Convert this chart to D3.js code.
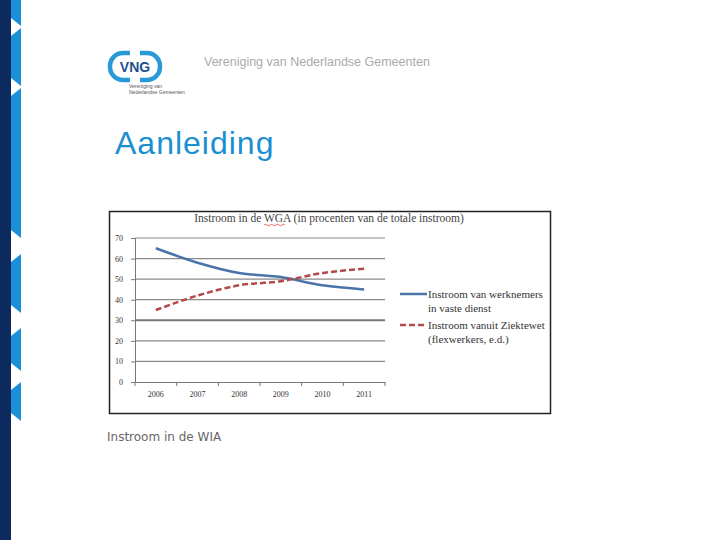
<!DOCTYPE html>
<html>
<head>
<meta charset="utf-8">
<script src="https://cdn.jsdelivr.net/npm/d3@7"></script>
<style>
  body { margin: 0; background: #fff; }
  svg { display: block; }
</style>
</head>
<body>
<script>
// data
const years = ["2006", "2007", "2008", "2009", "2010", "2011"]
const vasteDienst = [65, 58, 53, 51, 47, 45]
const ziektewet = [35, 42, 47, 49, 53, 55]
const yTicks = [0, 10, 20, 30, 40, 50, 60, 70]
const seriesNames = [
    ["Instroom van werknemers", "in vaste dienst"],
    ["Instroom vanuit Ziektewet", "(flexwerkers, e.d.)"]
]
// light-blue pieces of the side band (y from, y to)
const bandPieces = [[0, 18], [36, 78], [96, 230], [262, 305], [336, 363], [390, 413]]

const svg = d3.select("body").append("svg").attr("width", 720).attr("height", 540)

// side band
svg.append("rect").attr("x", 0).attr("y", 0).attr("width", 11).attr("height", 540).attr("fill", "#0c2a5e")
svg.selectAll("path.piece")
    .data(bandPieces)
    .enter()
    .append("path")
    .attr("class", "piece")
    .attr("fill", "#1b8fd8")
    .attr("d", p => `M11,${p[0]} L21,${p[0] - 8} L21,${p[1] + 8} L11,${p[1]} Z`)
svg.append("rect").attr("x", 21).attr("y", 0).attr("width", 10).attr("height", 540).attr("fill", "#fff")

// logo
const logo = svg.append("g")
logo.append("rect").attr("x", 110).attr("y", 53).attr("width", 50).attr("height", 27).attr("rx", 13)
    .attr("fill", "none").attr("stroke", "#2a9ad6").attr("stroke-width", 4.5)
logo.append("rect").attr("x", 130).attr("y", 49).attr("width", 10).attr("height", 35).attr("fill", "#fff")
logo.append("text").attr("x", 135).attr("y", 72).attr("text-anchor", "middle")
    .attr("font-family", "Arial, 'Liberation Sans', sans-serif").attr("font-weight", "bold")
    .attr("font-size", 14).attr("fill", "#1e4f8c").text("VNG")
logo.append("text").attr("x", 129).attr("y", 88).attr("font-family", "Arial, sans-serif")
    .attr("font-size", 5).attr("fill", "#555").text("Vereniging van")
logo.append("text").attr("x", 129).attr("y", 94).attr("font-family", "Arial, sans-serif")
    .attr("font-size", 5).attr("fill", "#555").text("Nederlandse Gemeenten")

svg.append("text").attr("x", 204).attr("y", 66)
    .attr("font-family", "Arial, 'Liberation Sans', sans-serif").attr("font-size", 12.5)
    .attr("fill", "#aaa").text("Vereniging van Nederlandse Gemeenten")

svg.append("text").attr("x", 115).attr("y", 154)
    .attr("font-family", "Arial, 'Liberation Sans', sans-serif").attr("font-size", 32)
    .attr("letter-spacing", 1).attr("fill", "#1a8fd0").text("Aanleiding")

// chart frame
svg.append("rect").attr("x", 109.5).attr("y", 211.5).attr("width", 441).attr("height", 202)
    .attr("fill", "#fff").attr("stroke", "#222").attr("stroke-width", 1.5)

const serif = "'Liberation Serif', 'Times New Roman', serif"

svg.append("text").attr("x", 329).attr("y", 222).attr("text-anchor", "middle")
    .attr("font-family", serif).attr("font-size", 11.5).attr("fill", "#444")
    .text("Instroom in de WGA (in procenten van de totale instroom)")
// spell-check squiggle under WGA
svg.append("path").attr("d", "M264,225 q1.5,-1.5 3,0 t3,0 t3,0 t3,0 t3,0 t3,0 t3,0")
    .attr("fill", "none").attr("stroke", "#d44").attr("stroke-width", 0.8)

const x = d3.scalePoint().domain(years).range([135, 385]).padding(0.5)
const xBand = d3.scaleBand().domain(years).range([135, 385])
const y = d3.scaleLinear().domain([0, 70]).range([382, 238])

// gridlines
svg.selectAll("line.grid")
    .data(yTicks.filter(t => t > 0))
    .enter()
    .append("line")
    .attr("x1", 135).attr("x2", 385)
    .attr("y1", d => y(d)).attr("y2", d => y(d))
    .attr("stroke", d => d === 30 ? "#777" : "#8a8a8a")
    .attr("stroke-width", d => d === 30 ? 2 : 1.2)

const yAxis = svg.append("g").attr("transform", "translate(135,0)")
    .call(d3.axisLeft(y).tickValues(yTicks).tickSize(4).tickPadding(8))
yAxis.select(".domain").attr("stroke", "#777")
yAxis.selectAll("line").attr("stroke", "#777")
yAxis.selectAll("text").attr("font-family", serif).attr("font-size", 8).attr("fill", "#333")

const xAxis = svg.append("g").attr("transform", "translate(0,382)")
    .call(d3.axisBottom(xBand).tickSize(0).tickPadding(9))
xAxis.select(".domain").attr("stroke", "#777").attr("stroke-width", 1.2)
xAxis.selectAll("text").attr("font-family", serif).attr("font-size", 8).attr("fill", "#333")
svg.selectAll("line.xtick")
    .data(d3.range(years.length + 1))
    .enter()
    .append("line")
    .attr("x1", i => 135 + i * xBand.step()).attr("x2", i => 135 + i * xBand.step())
    .attr("y1", 382).attr("y2", 386).attr("stroke", "#777")

const line = d3.line()
    .x((d, i) => x(years[i]))
    .y(d => y(d))
    .curve(d3.curveCatmullRom.alpha(0.5))

svg.append("path").datum(vasteDienst).attr("d", line)
    .attr("fill", "none").attr("stroke", "#4a74a8").attr("stroke-width", 2.5)
svg.append("path").datum(ziektewet).attr("d", line)
    .attr("fill", "none").attr("stroke", "#b3494a").attr("stroke-width", 2.5)
    .attr("stroke-dasharray", "6,3")

// legend
const legend = svg.append("g")
const styles = [
    { color: "#4a74a8", dash: null, y: 294 },
    { color: "#b3494a", dash: "6,3", y: 325 }
]
styles.forEach((s, i) => {
    legend.append("line").attr("x1", 400).attr("x2", 427).attr("y1", s.y).attr("y2", s.y)
        .attr("stroke", s.color).attr("stroke-width", 2.5).attr("stroke-dasharray", s.dash)
    seriesNames[i].forEach((t, j) => {
        legend.append("text").attr("x", 428).attr("y", s.y + 4 + j * 13.5)
            .attr("font-family", serif).attr("font-size", 11).attr("fill", "#333").text(t)
    })
})

svg.append("text").attr("x", 107).attr("y", 441)
    .attr("font-family", "'DejaVu Sans', Verdana, sans-serif").attr("font-size", 12)
    .attr("fill", "#666").text("Instroom in de WIA")
</script>
</body>
</html>
